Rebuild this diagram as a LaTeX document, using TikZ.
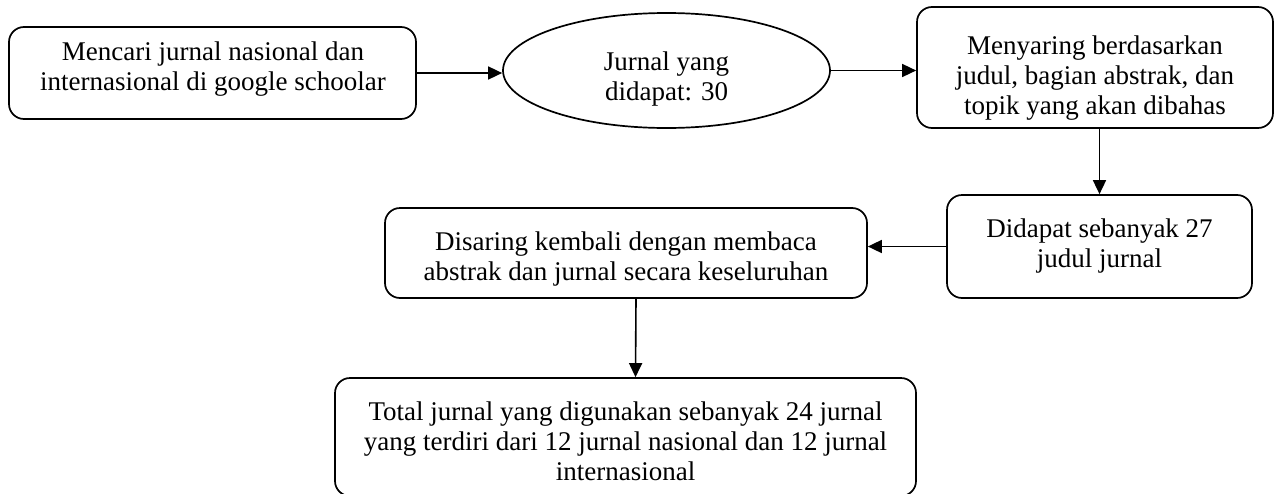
\documentclass[tikz,border=0pt]{standalone}
\usepackage{fontspec}
\setmainfont{Liberation Serif}
\usetikzlibrary{arrows.meta,shapes.geometric}
\begin{document}
\begin{tikzpicture}[x=1pt,y=-1pt,
  rbox/.style={draw, line width=1.7pt, rounded corners=15pt, inner sep=0pt},
  oval/.style={draw, ellipse, line width=1.7pt, inner sep=0pt},
  lbl/.style={align=center, font=\fontsize{27}{30}\selectfont, inner sep=0pt},
  arr/.style={-{Triangle[length=14pt,width=13pt]}, line width=1.6pt}
]
\useasboundingbox (0,0) rectangle (1275,493);
\node[rbox, minimum width=407pt, minimum height=92pt] (b1) at (212.5,73) {};
\node[lbl] (t1) at (213,69) {Mencari jurnal nasional dan\\internasional di google schoolar};
\node[oval, minimum width=327pt, minimum height=115pt] (el) at (666.5,70.5) {};
\node[lbl] (t2) at (666.5,79) {Jurnal yang\\didapat: 30};
\node[rbox, minimum width=356pt, minimum height=121pt] (b3) at (1095,67.5) {};
\node[lbl] (t3) at (1095,78) {Menyaring berdasarkan\\judul, bagian abstrak, dan\\topik yang akan dibahas};
\node[rbox, minimum width=305pt, minimum height=103pt] (b4) at (1099.5,246.5) {};
\node[lbl] (t4) at (1099.5,246) {Didapat sebanyak 27\\judul jurnal};
\node[rbox, minimum width=482pt, minimum height=90pt] (b5) at (626,253) {};
\node[lbl] (t5) at (626,259) {Disaring kembali dengan membaca\\abstrak dan jurnal secara keseluruhan};
\node[rbox, minimum width=581pt, minimum height=118pt] (b6) at (625.5,437) {};
\node[lbl] (t6) at (625.5,441) {Total jurnal yang digunakan sebanyak 24 jurnal\\yang terdiri dari 12 jurnal nasional dan 12 jurnal\\internasional};
\draw[arr] (b1.east) -- (b1.east -| el.west);
\draw[arr] (el.east) -- (el.east -| b3.west);
\draw[arr] (b3.south -| b4.north) -- (b4.north);
\draw[arr] (b4.west) -- (b4.west -| b5.east);
\draw[arr] ([xshift=10pt]b5.south) -- ([xshift=10pt]b6.north);
\end{tikzpicture}
\end{document}
